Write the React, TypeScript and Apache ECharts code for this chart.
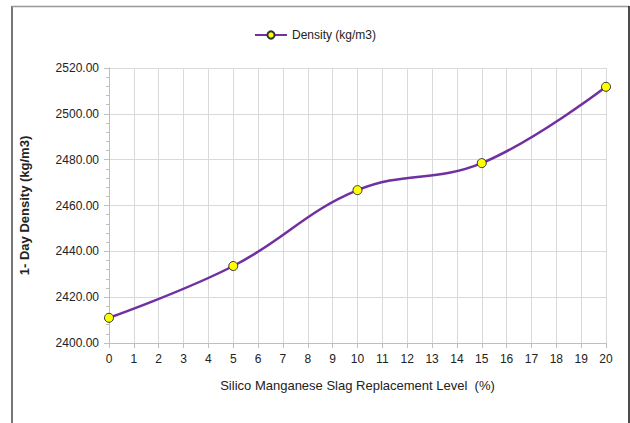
import React, { useEffect, useRef } from "react";
import * as echarts from "echarts";

const levels = [0, 5, 10, 15, 20];
const density = [2411.0, 2433.6, 2466.7, 2478.5, 2511.8];
const seriesName = "Density (kg/m3)";
const xTitle = "Silico Manganese Slag Replacement Level  (%)";
const yTitle = "1- Day Density (kg/m3)";

export default function App() {
  const ref = useRef<HTMLDivElement>(null);
  useEffect(() => {
    const chart = echarts.init(ref.current!, null, { renderer: "svg" });
    const font = "'Liberation Sans', 'Open Sans', sans-serif";
    chart.setOption({
      animation: false,
      backgroundColor: "#ffffff",
      textStyle: { fontFamily: font },
      legend: {
        top: 24,
        left: "center",
        itemWidth: 32,
        itemHeight: 9,
        itemGap: 6,
        textStyle: { fontSize: 12, color: "#222", fontFamily: font },
        data: [{ name: seriesName }],
      },
      grid: { left: 109, right: 24, top: 68, bottom: 80 },
      xAxis: {
        type: "value",
        min: 0,
        max: 20,
        interval: 1,
        name: xTitle,
        nameLocation: "middle",
        nameGap: 36,
        nameTextStyle: { fontSize: 13, color: "#222", fontFamily: font },
        axisLine: { show: true, lineStyle: { color: "#bfbfbf" } },
        axisTick: { show: true, length: 5, lineStyle: { color: "#bfbfbf" } },
        axisLabel: { fontSize: 12, color: "#222", margin: 10 },
        splitLine: { show: true, lineStyle: { color: "#d9d9d9" } },
      },
      yAxis: {
        type: "value",
        min: 2400,
        max: 2520,
        interval: 20,
        name: yTitle,
        nameLocation: "middle",
        nameGap: 78,
        nameTextStyle: { fontSize: 13, fontWeight: "bold", color: "#222", fontFamily: font },
        axisLine: { show: true, lineStyle: { color: "#bfbfbf" } },
        axisTick: { show: true, length: 5, lineStyle: { color: "#bfbfbf" } },
        minorTick: { show: true, splitNumber: 5, length: 3, lineStyle: { color: "#bfbfbf" } },
        axisLabel: { fontSize: 12, color: "#222", margin: 10, formatter: (v: number) => v.toFixed(2) },
        splitLine: { show: true, lineStyle: { color: "#d9d9d9" } },
      },
      series: [
        {
          name: seriesName,
          type: "line",
          smooth: 0.4,
          data: levels.map((x, i) => [x, density[i]]),
          symbol: "circle",
          symbolSize: 9,
          lineStyle: { color: "#7030a0", width: 2.5 },
          itemStyle: { color: "#ffff00", borderColor: "#333", borderWidth: 1 },
        },
      ],
      graphic: [
        { type: "line", shape: { x1: 12, y1: 6, x2: 12, y2: 423 }, style: { stroke: "#777", lineWidth: 2 } },
        { type: "line", shape: { x1: 12, y1: 6.5, x2: 629, y2: 6.5 }, style: { stroke: "#999", lineWidth: 1.5 } },
        { type: "line", shape: { x1: 629, y1: 6, x2: 629, y2: 423 }, style: { stroke: "#111", lineWidth: 1.5 } },
      ],
    });
    return () => chart.dispose();
  }, []);
  return (
    <div
      ref={ref}
      style={{ position: "fixed", left: 0, top: 0, width: 630, height: 423 }}
    />
  );
}
